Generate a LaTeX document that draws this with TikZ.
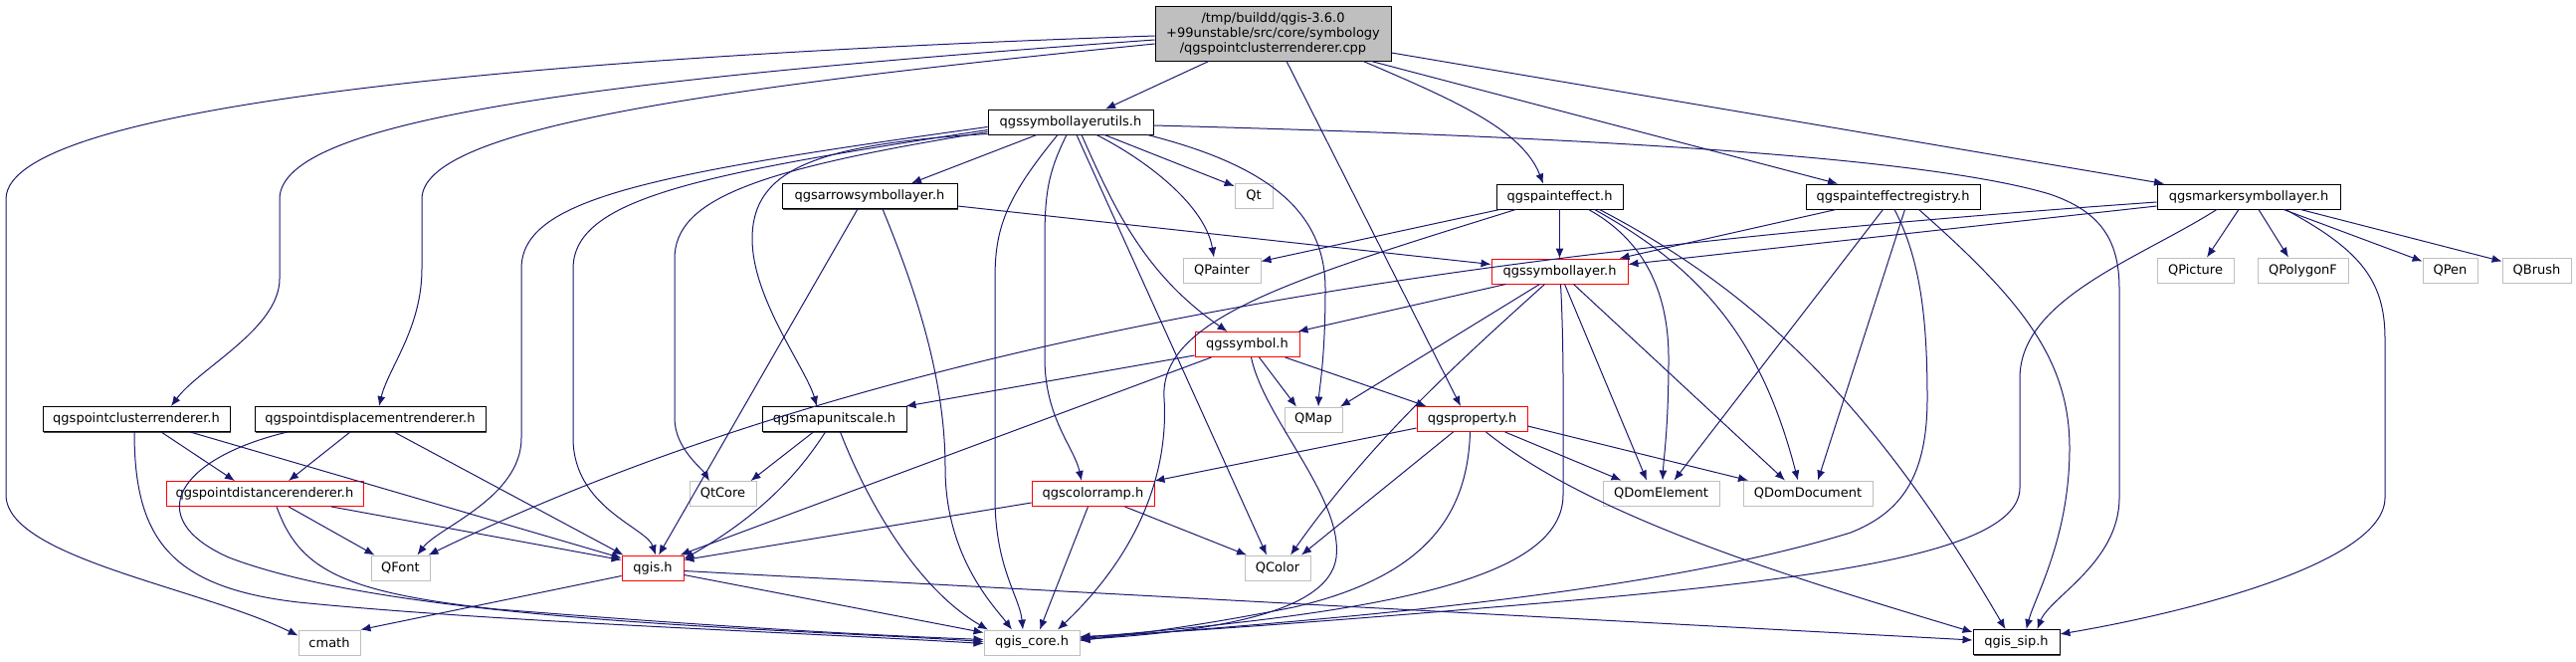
\documentclass[tikz,border=0pt]{standalone}
\usepackage{fontspec}
\setmainfont{DejaVu Sans}
\usetikzlibrary{arrows.meta,shadows}
\definecolor{edgec}{HTML}{191970}
\definecolor{graybd}{HTML}{BFBFBF}
\begin{document}
\begin{tikzpicture}[x=1pt,y=-1pt,
  nb/.style={draw, line width=0.9pt, minimum height=25pt, inner sep=0pt, font=\fontsize{13}{15}\selectfont, fill=white},
  blk/.style={nb, draw=black, drop shadow={shadow xshift=1.2pt, shadow yshift=-1.2pt, fill=black!70, opacity=1}},
  gry/.style={nb, draw=graybd},
  redbox/.style={nb, draw=red},
  arr/.style={draw=edgec, line width=1pt, -{Latex[length=10pt,width=8pt]}}]
\useasboundingbox (0,0) rectangle (2589,664);
% nodes
\node[blk, fill=graybd, minimum width=237pt, minimum height=55pt, align=center] (main) at (1279.5,33.5) {/tmp/buildd/qgis-3.6.0\\+99unstable/src/core/symbology\\/qgspointclusterrenderer.cpp};
\node[blk, minimum width=166pt] (utils) at (1076,122.5) {qgssymbollayerutils.h};
\node[blk, minimum width=176pt] (arrowsl) at (874,197) {qgsarrowsymbollayer.h};
\node[gry, minimum width=38pt] (Qt) at (1260,197) {Qt};
\node[blk, minimum width=127pt] (peff) at (1567.5,197.5) {qgspainteffect.h};
\node[blk, minimum width=175pt] (preg) at (1902.5,197.5) {qgspainteffectregistry.h};
\node[blk, minimum width=184pt] (marker) at (2260,197.5) {qgsmarkersymbollayer.h};
\node[gry, minimum width=78pt] (QPainter) at (1228,271.5) {QPainter};
\node[redbox, minimum width=137pt] (symlayer) at (1567.5,272.5) {qgssymbollayer.h};
\node[gry, minimum width=77pt] (QPicture) at (2206.5,271.5) {QPicture};
\node[gry, minimum width=91pt] (QPolygonF) at (2314.5,271.5) {QPolygonF};
\node[gry, minimum width=55pt] (QPen) at (2462.5,271.5) {QPen};
\node[gry, minimum width=69pt] (QBrush) at (2549.5,271.5) {QBrush};
\node[redbox, minimum width=105pt] (symbol) at (1253.5,346) {qgssymbol.h};
\node[blk, minimum width=188pt] (cluster) at (137,421) {qgspointclusterrenderer.h};
\node[blk, minimum width=232pt] (displ) at (372,421) {qgspointdisplacementrenderer.h};
\node[blk, minimum width=145pt] (mapunit) at (838.5,421) {qgsmapunitscale.h};
\node[gry, minimum width=58pt] (QMap) at (1320,421.5) {QMap};
\node[redbox, minimum width=111pt] (prop) at (1479.5,421) {qgsproperty.h};
\node[redbox, minimum width=198pt] (dist) at (266,496) {qgspointdistancerenderer.h};
\node[gry, minimum width=67pt] (QtCore) at (726.5,496) {QtCore};
\node[redbox, minimum width=123pt] (cramp) at (1098.5,496) {qgscolorramp.h};
\node[gry, minimum width=117pt] (QDomElement) at (1669.5,495.5) {QDomElement};
\node[gry, minimum width=130pt] (QDomDocument) at (1817,495.5) {QDomDocument};
\node[gry, minimum width=59pt] (QFont) at (402.5,570.5) {QFont};
\node[redbox, minimum width=62pt] (qgis) at (656,570.5) {qgis.h};
\node[gry, minimum width=66pt] (QColor) at (1284,570.5) {QColor};
\node[gry, minimum width=62pt] (cmath) at (331,645.5) {cmath};
\node[gry, minimum width=96pt] (core) at (1037,645.5) {qgis\_core.h};
\node[blk, minimum width=87pt] (sip) at (2026.5,645) {qgis\_sip.h};
% main
\draw[arr] ([yshift=-2.5pt]main.west) .. controls (600,55) and (6,100) .. (6,200) -- (6,497) .. controls (6,560) and (200,590) .. ([yshift=7pt]cmath.west);
\draw[arr] ([yshift=-6.5pt]main.west) .. controls (600,80) and (281,120) .. (281,200) -- (281,280) .. controls (281,330) and (200,370) .. ([xshift=35pt]cluster.north);
\draw[arr] ([yshift=-10.5pt]main.west) .. controls (700,90) and (424,130) .. (424,200) -- (424,270) .. controls (424,330) and (390,370) .. ([xshift=9pt]displ.north);
\draw[arr] ([xshift=-64.5pt]main.south) -- ([xshift=35pt]utils.north);
\draw[arr] ([xshift=13.5pt]main.south) -- ([xshift=-11.5pt]prop.north);
\draw[arr] ([xshift=90.5pt]main.south) .. controls (1460,100) and (1530,130) .. ([xshift=-16.5pt]peff.north);
\draw[arr] ([xshift=98.5pt]main.south) -- ([xshift=-55.5pt]preg.north);
\draw[arr] ([yshift=-19.5pt]main.east) -- ([xshift=-85pt]marker.north);
% utils
\draw[arr] ([xshift=-34pt]utils.south) -- ([xshift=42pt]arrowsl.north);
\draw[arr] ([xshift=34pt]utils.south) -- ([yshift=10pt]Qt.west);
\draw[arr] ([xshift=26pt]utils.south) .. controls (1160,165) and (1212,210) .. ([xshift=-8pt]QPainter.north);
\draw[arr] ([xshift=11pt]utils.south) .. controls (1120,210) and (1150,275) .. ([xshift=-20pt]symbol.north);
\draw[arr] ([yshift=-3.5pt]utils.east) .. controls (1700,140) and (1960,165) .. (2060,195) .. controls (2110,212) and (2130,240) .. (2130,290) -- (2130,500) .. controls (2130,565) and (2060,600) .. ([xshift=21pt]sip.north);
\draw[arr] ([yshift=-5pt]utils.west) .. controls (650,175) and (524,200) .. (524,270) -- (524,440) .. controls (524,500) and (440,530) .. ([xshift=17pt]QFont.north);
\draw[arr] ([yshift=-8pt]utils.west) .. controls (700,175) and (576,200) .. (576,270) -- (576,440) .. controls (576,510) and (650,530) .. ([xshift=3pt]qgis.north);
\draw[arr] ([yshift=-10pt]utils.west) .. controls (760,170) and (678,200) .. (678,260) -- (678,420) .. controls (678,450) and (705,470) .. ([xshift=-13.5pt]QtCore.north);
\draw[arr] ([yshift=-12pt]utils.west) .. controls (820,145) and (756,170) .. (756,240) .. controls (756,300) and (810,370) .. ([xshift=-17.5pt]mapunit.north);
\draw[arr] ([xshift=-13pt]utils.south) .. controls (1010,200) and (1000,230) .. (1000,280) -- (1000,500) .. controls (1000,570) and (1025,600) .. ([xshift=-9pt]core.north);
\draw[arr] ([xshift=-4pt]utils.south) .. controls (1055,170) and (1050,190) .. (1050,240) -- (1050,360) .. controls (1050,420) and (1080,450) .. ([xshift=-11.5pt]cramp.north);
\draw[arr] ([xshift=6pt]utils.south) -- ([xshift=-11pt]QColor.north);
\draw[arr] ([xshift=77pt]utils.south) .. controls (1270,165) and (1332,210) .. (1332,290) .. controls (1332,360) and (1326,390) .. ([xshift=5pt]QMap.north);
% arrowsymbollayer
\draw[arr] ([yshift=-10pt]arrowsl.east) -- ([yshift=7pt]symlayer.west);
\draw[arr] ([xshift=-12pt]arrowsl.south) -- ([xshift=6pt]qgis.north);
\draw[arr] ([xshift=13pt]arrowsl.south) .. controls (920,290) and (950,380) .. (950,470) .. controls (950,560) and (1000,610) .. ([xshift=-20pt]core.north);
% painteffect
\draw[arr] (peff.south) -- (symlayer.north);
\draw[arr] ([xshift=-60pt]peff.south) -- ([yshift=9pt]QPainter.east);
\draw[arr] ([xshift=-44pt]peff.south) .. controls (1300,280) and (1165,320) .. (1170,400) .. controls (1175,480) and (1140,560) .. ([xshift=26pt]core.north);
\draw[arr] ([xshift=29pt]peff.south) .. controls (1650,240) and (1677,290) .. (1677,360) .. controls (1677,430) and (1672,460) .. ([xshift=1.5pt]QDomElement.north);
\draw[arr] ([xshift=35pt]peff.south) .. controls (1710,270) and (1770,340) .. ([xshift=-10pt]QDomDocument.north);
\draw[arr] ([xshift=40pt]peff.south) .. controls (1760,290) and (1880,400) .. ([xshift=-11pt]sip.north);
% painteffectregistry
\draw[arr] ([xshift=-57pt]preg.south) -- ([xshift=60pt]symlayer.north);
\draw[arr] ([xshift=-10pt]preg.south) -- ([xshift=13pt]QDomElement.north);
\draw[arr] ([xshift=1.5pt]preg.south) .. controls (1930,260) and (1937,320) .. (1937,400) .. controls (1937,480) and (1910,515) .. (1860,535) .. controls (1650,600) and (1300,625) .. ([yshift=4pt]core.east);
\draw[arr] ([xshift=12pt]preg.south) -- ([xshift=10pt]QDomDocument.north);
\draw[arr] ([xshift=26pt]preg.south) .. controls (2030,300) and (2080,360) .. (2080,450) .. controls (2080,540) and (2045,600) .. ([xshift=10pt]sip.north);
% marker
\draw[arr] ([yshift=-9.5pt]marker.west) -- ([yshift=7pt]symlayer.east);
\draw[arr] ([yshift=-5.5pt]marker.west) .. controls (1500,250) and (900,330) .. ([xshift=28pt]QFont.north);
\draw[arr] ([xshift=-32pt]marker.south) .. controls (2150,260) and (2030,300) .. (2030,380) -- (2030,490) .. controls (2030,560) and (1800,585) .. (1500,610) .. controls (1300,627) and (1150,637) .. ([yshift=6pt]core.east);
\draw[arr] ([xshift=-10pt]marker.south) -- ([xshift=11.5pt]QPicture.north);
\draw[arr] ([xshift=10pt]marker.south) -- ([xshift=-14.5pt]QPolygonF.north);
\draw[arr] ([xshift=35pt]marker.south) -- ([yshift=9pt]QPen.west);
\draw[arr] ([xshift=52pt]marker.south) -- ([yshift=9pt]QBrush.west);
\draw[arr] ([xshift=37pt]marker.south) .. controls (2370,250) and (2397,280) .. (2397,340) -- (2397,500) .. controls (2397,565) and (2200,615) .. ([yshift=8pt]sip.east);
% symbollayer
\draw[arr] ([xshift=-54pt]symlayer.south) -- ([xshift=-2pt]symbol.north east);
\draw[arr] ([xshift=-20pt]symlayer.south) -- ([xshift=27pt]QMap.north);
\draw[arr] ([xshift=-15pt]symlayer.south) .. controls (1470,360) and (1380,440) .. ([xshift=13pt]QColor.north);
\draw[arr] ([xshift=1pt]symlayer.south) .. controls (1572,350) and (1571,420) .. (1571,497) .. controls (1571,580) and (1400,615) .. ([yshift=5pt]core.east);
\draw[arr] ([xshift=5pt]symlayer.south) -- ([xshift=-14.5pt]QDomElement.north);
\draw[arr] ([xshift=14pt]symlayer.south) -- ([xshift=-23pt]QDomDocument.north);
% symbol
\draw[arr] ([yshift=-11pt]symbol.west) -- ([xshift=-1pt]mapunit.north east);
\draw[arr] ([xshift=-36pt]symbol.south) -- ([xshift=-4pt]qgis.north east);
\draw[arr] ([xshift=12pt]symbol.south) -- ([xshift=-17pt]QMap.north);
\draw[arr] ([xshift=38pt]symbol.south) -- ([xshift=-46pt]prop.north);
\draw[arr] ([xshift=4pt]symbol.south) .. controls (1270,420) and (1350,500) .. (1343,560) .. controls (1335,620) and (1200,635) .. ([yshift=3pt]core.east);
% mapunitscale
\draw[arr] ([xshift=-21pt]mapunit.south) -- ([xshift=28pt]QtCore.north);
\draw[arr] ([xshift=-9pt]mapunit.south) .. controls (800,480) and (760,520) .. ([yshift=-4pt]qgis.north east);
\draw[arr] ([xshift=6pt]mapunit.south) .. controls (870,500) and (920,590) .. ([xshift=-44pt]core.north);
% property
\draw[arr] ([yshift=-9pt]prop.west) -- (cramp.north east);
\draw[arr] ([xshift=-19pt]prop.south) -- ([xshift=24pt]QColor.north);
\draw[arr] ([xshift=-2pt]prop.south) .. controls (1475,520) and (1430,580) .. (1300,610) .. controls (1200,630) and (1130,638) .. ([yshift=2pt]core.east);
\draw[arr] ([xshift=14pt]prop.south) .. controls (1600,520) and (1800,580) .. ([yshift=10pt]sip.west);
\draw[arr] ([xshift=33pt]prop.south) -- ([xshift=-40pt]QDomElement.north);
\draw[arr] ([yshift=-7pt]prop.east) -- ([xshift=-60pt]QDomDocument.north);
% cluster
\draw[arr] ([xshift=25pt]cluster.south) -- ([xshift=-30pt]dist.north);
\draw[arr] ([xshift=54pt]cluster.south) -- ([yshift=-3pt]qgis.north west);
\draw[arr] ([xshift=-2pt]cluster.south) .. controls (135,540) and (170,590) .. (300,605) .. controls (500,625) and (800,635) .. ([yshift=-1pt]core.west);
% displacement
\draw[arr] ([xshift=-20pt]displ.south) -- ([xshift=24pt]dist.north);
\draw[arr] ([xshift=24pt]displ.south) -- ([xshift=2pt]qgis.north west);
\draw[arr] ([xshift=-83pt]displ.south) .. controls (180,460) and (140,520) .. (230,560) .. controls (400,625) and (800,632) .. ([yshift=1pt]core.west);
% distance
\draw[arr] ([xshift=24pt]dist.south) -- ([xshift=-26pt]QFont.north);
\draw[arr] ([xshift=67pt]dist.south) -- ([yshift=8pt]qgis.west);
\draw[arr] ([xshift=12pt]dist.south) .. controls (300,570) and (340,595) .. (500,612) .. controls (700,628) and (850,637) .. ([yshift=3pt]core.west);
% colorramp
\draw[arr] ([yshift=-9pt]cramp.west) -- ([yshift=8pt]qgis.east);
\draw[arr] ([xshift=32pt]cramp.south) -- ([xshift=-31pt]QColor.north);
\draw[arr] ([xshift=-5pt]cramp.south) -- ([xshift=8pt]core.north);
% qgis
\draw[arr] ([yshift=-8pt]qgis.west) -- (cmath.north east);
\draw[arr] ([yshift=-7pt]qgis.east) -- ([yshift=10pt]core.west);
\draw[arr] ([yshift=-3pt]qgis.east) -- ([yshift=2pt]sip.west);
\end{tikzpicture}
\end{document}
